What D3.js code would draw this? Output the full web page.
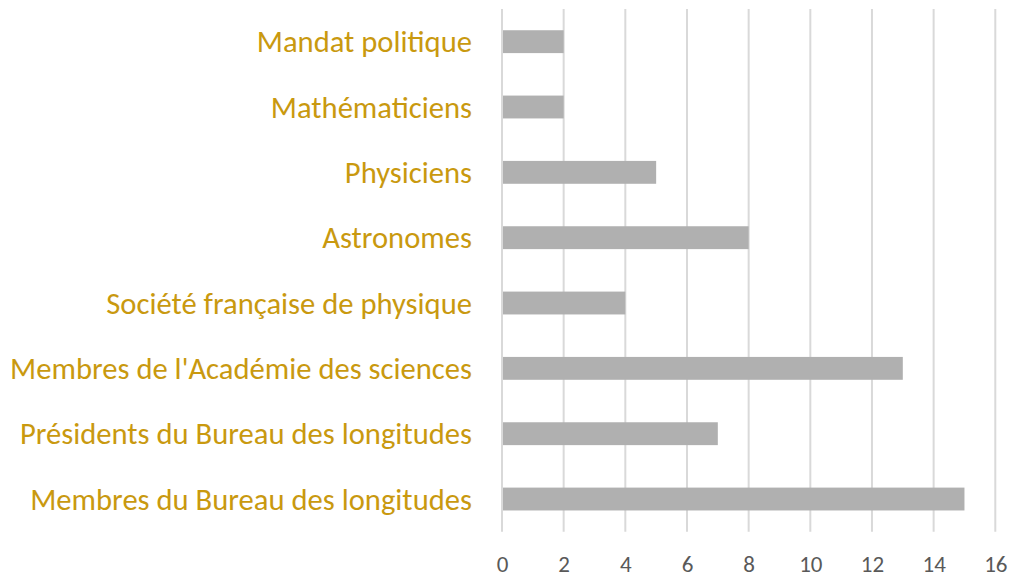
<!DOCTYPE html>
<html lang="fr">
<head>
<meta charset="utf-8">
<script src="https://cdnjs.cloudflare.com/ajax/libs/d3/7.8.5/d3.min.js"></script>
<style>
  html, body { margin: 0; padding: 0; background: #fff; }
  svg { display: block; }
</style>
</head>
<body>
<script>
// data, top to bottom as shown
var categories = [
  "Mandat politique",
  "Mathématiciens",
  "Physiciens",
  "Astronomes",
  "Société française de physique",
  "Membres de l'Académie des sciences",
  "Présidents du Bureau des longitudes",
  "Membres du Bureau des longitudes"
]
var values = [2, 2, 5, 8, 4, 13, 7, 15]
var tickValues = [0, 2, 4, 6, 8, 10, 12, 14, 16]

var width = 1011
var height = 577
var labelColor = "#c9990f"
var barColor = "#b0b0b0"
var gridColor = "#d9d9d9"
var tickColor = "#595959"
var fontFamily = "Carlito, Lato, 'Open Sans', sans-serif"

var rows = categories.map((c, i) => ({name: c, value: values[i]}))

var x = d3.scaleLinear().domain([0, 16]).range([502, 995.3])
var y = d3.scaleBand().domain(categories).range([9, 531.7])
  .paddingInner(0.65).paddingOuter(0.325)

var svg = d3.select("body").append("svg")
  .attr("width", width)
  .attr("height", height)
  .attr("font-family", fontFamily)

// vertical grid lines
svg.append("g").attr("class", "grid")
  .selectAll("line")
  .data(tickValues)
  .join("line")
  .attr("x1", d => x(d)).attr("x2", d => x(d))
  .attr("y1", 9).attr("y2", 531.7)
  .attr("stroke", gridColor)
  .attr("stroke-width", 2)

// bars
svg.append("g").attr("class", "bars")
  .selectAll("rect")
  .data(rows)
  .join("rect")
  .attr("x", x(0) + 1)
  .attr("y", d => y(d.name))
  .attr("width", d => x(d.value) - x(0) - 1)
  .attr("height", y.bandwidth())
  .attr("fill", barColor)

// category labels, fitted so the longest one spans like the original
var labels = svg.append("g").attr("class", "labels")
  .selectAll("text")
  .data(rows)
  .join("text")
  .attr("x", 472)
  .attr("y", d => y(d.name) + y.bandwidth() / 2)
  .attr("dy", "0.35em")
  .attr("text-anchor", "end")
  .attr("fill", labelColor)
  .attr("font-size", 28)
  .text(d => d.name)

var widest = d3.max(labels.nodes(), n => n.getComputedTextLength())
var labelSize = 28 * 462 / widest
labels.attr("font-size", labelSize)

// bottom axis tick labels
var axis = d3.axisBottom(x).tickValues(tickValues).tickSize(0).tickPadding(0)
var gx = svg.append("g")
  .attr("transform", "translate(0,572)")
  .call(axis)
gx.select(".domain").remove()
gx.selectAll("text")
  .attr("y", 0)
  .attr("dy", null)
  .attr("fill", tickColor)
  .attr("font-size", 23)
  .attr("font-family", fontFamily)
</script>
</body>
</html>
